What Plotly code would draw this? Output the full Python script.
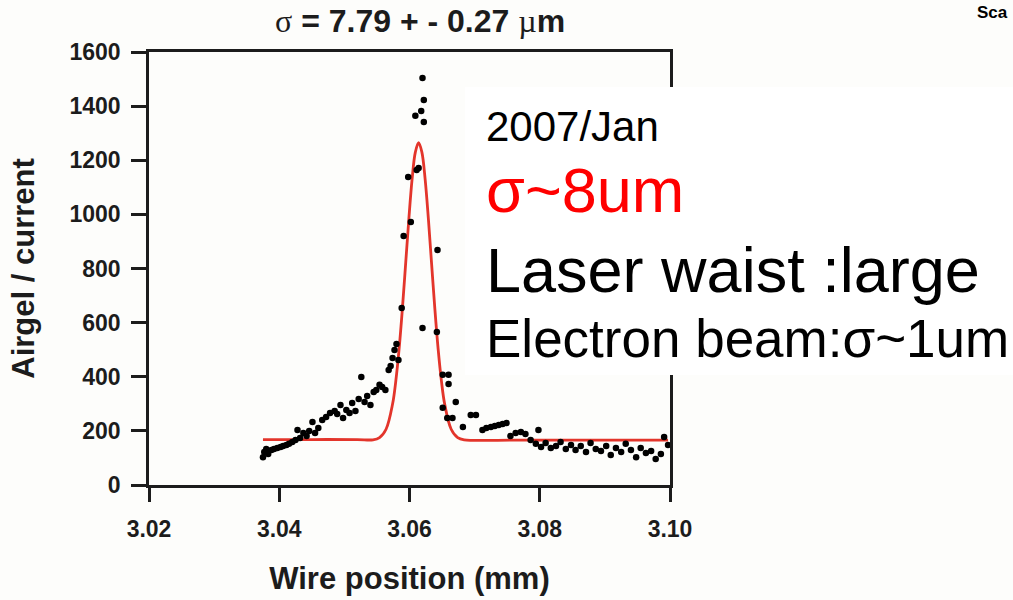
import plotly.graph_objects as go

# Measured profile: wire position (mm) vs. Airgel / current
wire_pos = [
    3.0375, 3.0377, 3.0380, 3.0383, 3.0388, 3.0392, 3.0397, 3.0402, 3.0406, 3.0411,
    3.0415, 3.0420, 3.0425, 3.0428, 3.0432, 3.0437, 3.0442, 3.0446, 3.0451, 3.0455,
    3.0460, 3.0466, 3.0472, 3.0478, 3.0485, 3.0489, 3.0494, 3.0498, 3.0503, 3.0508,
    3.0512, 3.0517, 3.0522, 3.0526, 3.0531, 3.0535, 3.0540, 3.0545, 3.0549, 3.0554,
    3.0558, 3.0563, 3.0568, 3.0571, 3.0574, 3.0577, 3.0580, 3.0583, 3.0588, 3.0591,
    3.0598, 3.0602, 3.0611, 3.0614, 3.0609, 3.0618, 3.0622, 3.0622, 3.0620, 3.0620,
    3.0642, 3.0643, 3.0651, 3.0660, 3.0660, 3.0651, 3.0658, 3.0666, 3.0671, 3.0682,
    3.0694, 3.0702, 3.0712, 3.0718, 3.0725, 3.0731, 3.0737, 3.0743, 3.0749, 3.0755,
    3.0763, 3.0771, 3.0778, 3.0786, 3.0794, 3.0798, 3.0802, 3.0809, 3.0817, 3.0825,
    3.0832, 3.0840, 3.0848, 3.0855, 3.0863, 3.0871, 3.0878, 3.0886, 3.0894, 3.0902,
    3.0909, 3.0917, 3.0925, 3.0932, 3.0940, 3.0948, 3.0955, 3.0963, 3.0971, 3.0978,
    3.0986, 3.0991, 3.0997,
]
signal = [
    103, 122, 133, 115, 129, 133, 137, 140, 144, 148,
    152, 159, 166, 203, 174, 192, 181, 200, 233, 192,
    211, 240, 251, 266, 273, 262, 296, 248, 277, 266,
    303, 273, 318, 399, 307, 329, 296, 344, 351, 370,
    362, 351, 425, 440, 469, 499, 521, 462, 654, 920,
    1138, 972, 1164, 1171, 1364, 1382, 1341, 1423, 1504, 580,
    565, 868, 407, 407, 373, 285, 248, 248, 307, 214,
    259, 259, 203, 211, 214, 218, 222, 225, 229, 181,
    192, 196, 188, 166, 152, 203, 140, 155, 137, 144,
    159, 133, 148, 129, 144, 122, 155, 133, 126, 144,
    111, 137, 122, 152, 129, 103, 137, 118, 126, 96,
    115, 177, 148,
]

# Gaussian fit curve
fit_x = [
    3.0375, 3.0450, 3.0520, 3.0544, 3.0554, 3.0564, 3.0574, 3.0579, 3.0584,
    3.0589, 3.0594, 3.0599, 3.0604, 3.0609, 3.0614, 3.0619, 3.0624, 3.0629,
    3.0634, 3.0639, 3.0644, 3.0649, 3.0654, 3.0664, 3.0674, 3.0684, 3.0760, 3.0997,
]
fit_y = [
    168, 168, 168, 167, 175, 206, 299, 385, 502,
    649, 815, 983, 1130, 1230, 1265, 1230, 1130, 983,
    815, 649, 502, 385, 299, 206, 175, 167, 166, 166,
]

x_ticks = [3.02, 3.04, 3.06, 3.08, 3.10]
x_ticktext = ["3.02", "3.04", "3.06", "3.08", "3.10"]
y_ticks = [0, 200, 400, 600, 800, 1000, 1200, 1400, 1600]

W, H = 1013, 600
L, R, T, B = 149, 670, 52, 485   # plot-area edges in pixels


def px(xp):
    return (xp - L) / (R - L)


def py(yp):
    return (B - yp) / (B - T)


FONT = "Liberation Sans, Arial, Helvetica, sans-serif"
INK = "#1c1c1c"

fig = go.Figure()
fig.add_trace(go.Scatter(
    x=fit_x, y=fit_y, mode="lines", line=dict(color="#e3352b", width=2.8, shape="spline"),
    hoverinfo="skip", showlegend=False,
))
fig.add_trace(go.Scatter(
    x=wire_pos, y=signal, mode="markers",
    marker=dict(color="black", size=6.5), showlegend=False,
))

axis_common = dict(
    showline=True, linecolor=INK, linewidth=2.5, mirror=True,
    ticks="outside", tickcolor=INK, tickwidth=2.5,
    showgrid=False, zeroline=False, automargin=False,
    tickfont=dict(family=FONT, size=23, color=INK, weight="bold"),
)

fig.update_layout(
    width=W, height=H,
    margin=dict(l=L, r=W - R, t=T, b=H - B),
    paper_bgcolor="#fdfdfb", plot_bgcolor="#fdfdfb",
    xaxis=dict(range=[3.02, 3.10], tickvals=x_ticks, ticktext=x_ticktext, ticklen=14,
               ticklabelstandoff=8,
               title=dict(text="Wire position (mm)", standoff=26,
                          font=dict(family=FONT, size=31, color=INK, weight="bold")),
               **axis_common),
    yaxis=dict(range=[0, 1600], tickvals=y_ticks, ticklen=15, ticklabelstandoff=6,
               title=dict(text="Airgel / current", standoff=26,
                          font=dict(family=FONT, size=31, color=INK, weight="bold")),
               **axis_common),
    shapes=[
        dict(type="rect", xref="paper", yref="paper", layer="above",
             x0=px(465), x1=px(W + 5), y0=py(375), y1=py(87),
             fillcolor="white", line=dict(width=0)),
    ],
)

sym = "<span style='font-family:\"Liberation Serif\", Times, serif;font-weight:normal'>"
annotations = [
    dict(text=f"{sym}σ</span> = 7.79 + - 0.27 {sym}µ</span>m",
         x=px(420), y=py(21), font=dict(family=FONT, size=32, color=INK, weight="bold")),
    dict(text="2007/Jan", x=px(484), y=py(126), xanchor="left",
         font=dict(family=FONT, size=42, color="black")),
    dict(text="σ~8um", x=px(484), y=py(190), xanchor="left",
         font=dict(family=FONT, size=63, color="#ff0000")),
    dict(text="Laser waist :large", x=px(484), y=py(270), xanchor="left",
         font=dict(family=FONT, size=63, color="black")),
    dict(text="Electron beam:σ~1um", x=px(484), y=py(338), xanchor="left",
         font=dict(family=FONT, size=53, color="black")),
    dict(text="Sca", x=px(975), y=py(1), xanchor="left", yanchor="top",
         font=dict(family=FONT, size=17, color="black", weight="bold")),
]
for a in annotations:
    a.setdefault("xanchor", "center")
    a.setdefault("yanchor", "middle")
    fig.add_annotation(xref="paper", yref="paper", showarrow=False, **a)

fig.write_html("out.html")
